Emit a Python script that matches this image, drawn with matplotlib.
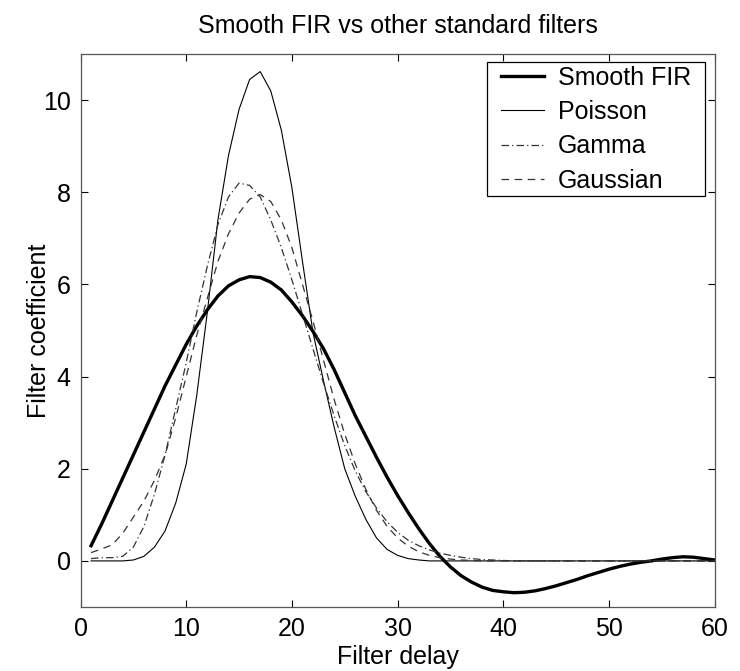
import matplotlib
matplotlib.use("Agg")
import matplotlib.pyplot as plt
from matplotlib.patches import Rectangle

# filter delay (taps)
delay = list(range(1, 61))

smooth_fir = [0.33, 0.80, 1.30, 1.80, 2.30, 2.80, 3.30, 3.80, 4.25, 4.70,
              5.10, 5.45, 5.75, 5.97, 6.10, 6.17, 6.15, 6.05, 5.88, 5.62,
              5.32, 4.98, 4.60, 4.15, 3.65, 3.15, 2.70, 2.25, 1.82, 1.42,
              1.05, 0.70, 0.38, 0.10, -0.13, -0.32, -0.46, -0.57, -0.64, -0.67,
              -0.69, -0.68, -0.65, -0.60, -0.54, -0.47, -0.40, -0.32, -0.25, -0.18,
              -0.12, -0.07, -0.03, 0.00, 0.04, 0.07, 0.09, 0.08, 0.05, 0.02]

poisson = [0.0, 0.0, 0.0, 0.0, 0.02, 0.10, 0.30, 0.65, 1.25, 2.10,
           3.60, 5.40, 7.40, 8.80, 9.80, 10.45, 10.62, 10.20, 9.35, 8.10,
           6.50, 4.95, 3.90, 2.90, 2.00, 1.40, 0.90, 0.50, 0.25, 0.12,
           0.05, 0.02, 0.0, 0.0, 0.0, 0.0, 0.0, 0.0, 0.0, 0.0,
           0.0, 0.0, 0.0, 0.0, 0.0, 0.0, 0.0, 0.0, 0.0, 0.0,
           0.0, 0.0, 0.0, 0.0, 0.0, 0.0, 0.0, 0.0, 0.0, 0.0]

gamma = [0.05, 0.07, 0.07, 0.10, 0.30, 0.75, 1.45, 2.30, 3.30, 4.30,
         5.40, 6.40, 7.30, 7.90, 8.20, 8.15, 7.90, 7.40, 6.80, 6.10,
         5.35, 4.60, 3.85, 3.15, 2.50, 1.95, 1.50, 1.15, 0.85, 0.62,
         0.45, 0.33, 0.24, 0.17, 0.12, 0.08, 0.05, 0.03, 0.02, 0.01,
         0.0, 0.0, 0.0, 0.0, 0.0, 0.0, 0.0, 0.0, 0.0, 0.0,
         0.0, 0.0, 0.0, 0.0, 0.0, 0.0, 0.0, 0.0, 0.0, 0.0]

gaussian = [0.18, 0.26, 0.35, 0.60, 0.95, 1.30, 1.75, 2.30, 3.10, 4.00,
            4.90, 5.70, 6.50, 7.10, 7.55, 7.85, 7.95, 7.80, 7.40, 6.80,
            6.00, 5.20, 4.35, 3.50, 2.75, 2.10, 1.55, 1.10, 0.75, 0.50,
            0.32, 0.20, 0.12, 0.07, 0.04, 0.02, 0.01, 0.0, 0.0, 0.0,
            0.0, 0.0, 0.0, 0.0, 0.0, 0.0, 0.0, 0.0, 0.0, 0.0,
            0.0, 0.0, 0.0, 0.0, 0.0, 0.0, 0.0, 0.0, 0.0, 0.0]

x_ticks = [0, 10, 20, 30, 40, 50, 60]
y_ticks = [0, 2, 4, 6, 8, 10]

plt.rcParams["font.family"] = ["Liberation Sans", "DejaVu Sans"]

fig = plt.figure(figsize=(7.4, 6.71), dpi=100)
ax = fig.add_axes([0.1088, 0.0954, 0.857, 0.824])

ax.plot(delay, smooth_fir, color="black", lw=2.4, label="Smooth FIR")
ax.plot(delay, poisson, color="black", lw=0.8, label="Poisson")
ax.plot(delay, gamma, color="#333333", lw=0.9, dashes=(6, 2.5, 1, 2.5), label="Gamma")
ax.plot(delay, gaussian, color="#333333", lw=0.9, dashes=(6, 4.5), label="Gaussian")

ax.set_xlim(0, 60)
ax.set_ylim(-1, 11)
ax.set_xticks(x_ticks)
ax.set_yticks(y_ticks)
ax.tick_params(direction="in", top=True, right=True, labelsize=18, length=5,
               width=0.8, colors="black", pad=7)
for s in ax.spines.values():
    s.set_linewidth(0.9)
    s.set_color("#555555")

ax.set_title("Smooth FIR vs other standard filters", fontsize=18, pad=15)
ax.set_xlabel("Filter delay", fontsize=18, labelpad=3)
ax.set_ylabel("Filter coefficient", fontsize=18)
ax.yaxis.set_label_coords(-0.046, 0.5)

# legend content, then a wider box drawn around it (matlab style padding)
leg = ax.legend(loc="upper right", bbox_to_anchor=(0.969, 0.9855),
                fontsize=18, frameon=False, borderaxespad=0,
                handlelength=1.75, handletextpad=0.55, labelspacing=0.41,
                borderpad=0.15)
fig.canvas.draw()
bb = leg.get_window_extent().transformed(fig.transFigure.inverted())
padx = 10 / 740
fig.patches.append(Rectangle((bb.x0 - padx, bb.y0), bb.width + 2 * padx, bb.height,
                             transform=fig.transFigure, fill=False,
                             edgecolor="black", linewidth=0.9, zorder=5))

fig.savefig("out.png", dpi=100)
